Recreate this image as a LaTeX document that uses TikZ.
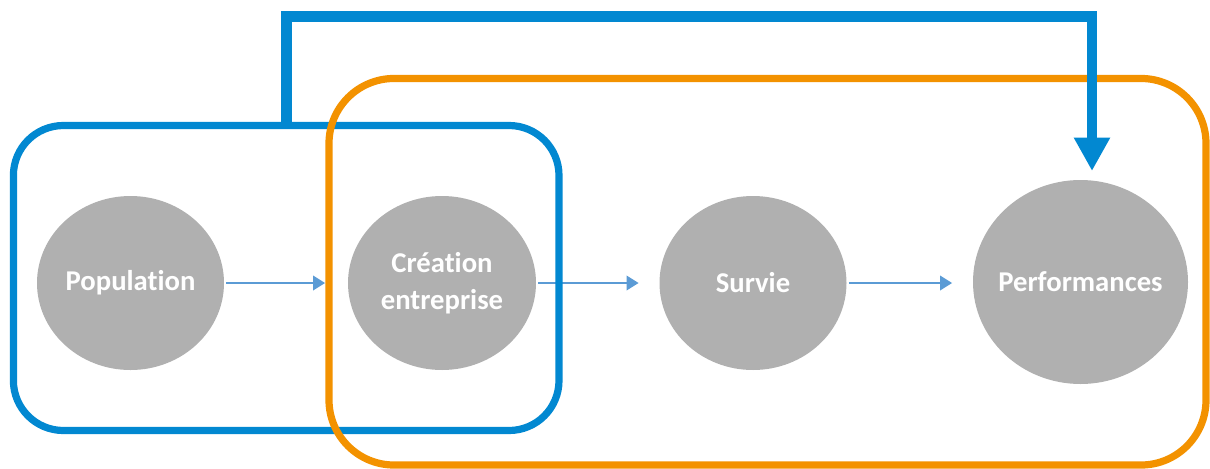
\documentclass[tikz,border=0pt]{standalone}
\usepackage{fontspec}
\setmainfont{Carlito}[Ligatures=NoCommon]
\usetikzlibrary{arrows.meta,shapes.geometric}
\definecolor{grpblue}{RGB}{2,136,209}
\definecolor{grporange}{RGB}{243,146,0}
\definecolor{stagegray}{RGB}{176,176,176}
\definecolor{flowblue}{RGB}{91,155,213}
\begin{document}
\begin{tikzpicture}[x=0.75pt,y=-0.75pt,
  stage/.style={ellipse,fill=stagegray,draw=none,inner sep=0pt},
  stagetext/.style={text=white,inner sep=0pt,
    font=\fontsize{21.5pt}{27.75pt}\selectfont\bfseries,align=center},
  flow/.style={draw=flowblue,line width=1.1pt,shorten <=1.5pt,shorten >=15.5pt,
    -{Triangle[length=9pt,width=11pt]}},
  grpbox/.style={rectangle,inner sep=0pt,line width=5.4pt},
  feedback/.style={draw=grpblue,line width=8pt,miter limit=10,
    -{Triangle[length=25pt,width=25.5pt]}}]
\useasboundingbox (0,0) rectangle (1210,468);

% stages of the process
\node[stage,minimum width=140.25pt,minimum height=130.5pt,
  label={[stagetext]center:Population}] (pop) at (130.5,283) {};
\node[stage,minimum width=141pt,minimum height=130.5pt,
  label={[stagetext]center:Création\\entreprise}] (crea) at (442,283) {};
\node[stage,minimum width=140.25pt,minimum height=130.5pt,
  label={[stagetext]center:Survie}] (surv) at (753,283) {};
\node[stage,minimum width=161.25pt,minimum height=153pt,
  label={[stagetext]center:Performances}] (perf) at (1080.5,282) {};

% transitions between stages
\draw[flow,shorten >=17pt] (pop.east) -- (crea.west);
\draw[flow] (crea.east) -- (surv.west);
\draw[flow] (surv.east) -- (surv.east -| perf.west);

% groups
\node[grpbox,draw=grpblue,rounded corners=37.5pt,minimum width=409.2pt,minimum height=228.75pt] (grpA) at (286.2,278) {};
\node[grpbox,draw=grporange,rounded corners=48.75pt,minimum width=657.75pt,minimum height=289.9pt] (grpB) at (767.5,271.75) {};

% feedback from the first group to performances
\coordinate (bend) at (1092,16.5);
\coordinate (tip) at (1092,171);
\draw[feedback] (grpA.north) |- (bend) -- (tip);
\end{tikzpicture}
\end{document}
